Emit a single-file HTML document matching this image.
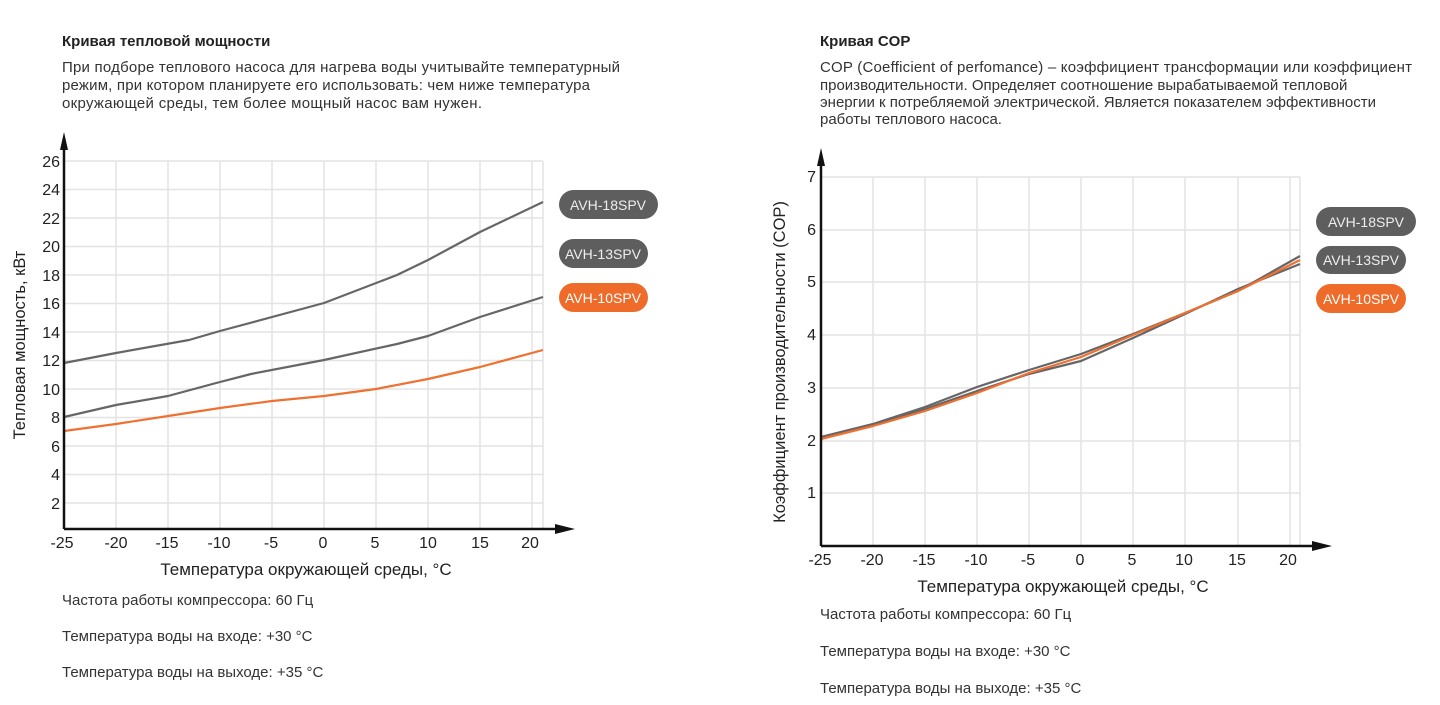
<!DOCTYPE html>
<html><head><meta charset="utf-8"><style>
html,body{margin:0;padding:0;background:#fff;width:1440px;height:705px;overflow:hidden}
svg{display:block;font-family:"Liberation Sans",sans-serif}
</style></head><body>
<svg width="1440" height="705" viewBox="0 0 1440 705">
<g fill="#222">
<text x="62" y="46" font-size="15" font-weight="bold">Кривая тепловой мощности</text>
<g font-size="15" fill="#333" textLength="0">
<text x="62" y="72" textLength="558">При подборе теплового насоса для нагрева воды учитывайте температурный</text>
<text x="62" y="90" textLength="528">режим, при котором планируете его использовать: чем ниже температура</text>
<text x="62" y="108" textLength="420">окружающей среды, тем более мощный насос вам нужен.</text>
</g>
<text x="820" y="46" font-size="15" font-weight="bold">Кривая COP</text>
<g font-size="15" fill="#333">
<text x="820" y="72" textLength="592">COP (Coefficient of perfomance) – коэффициент трансформации или коэффициент</text>
<text x="820" y="90">производительности. Определяет соотношение вырабатываемой тепловой</text>
<text x="820" y="107">энергии к потребляемой электрической. Является показателем эффективности</text>
<text x="820" y="124">работы теплового насоса.</text>
</g>
<g font-size="15" fill="#333">
<text x="62" y="605">Частота работы компрессора: 60 Гц</text>
<text x="62" y="641">Температура воды на входе: +30 °C</text>
<text x="62" y="677">Температура воды на выходе: +35 °C</text>
<text x="820" y="619">Частота работы компрессора: 60 Гц</text>
<text x="820" y="656">Температура воды на входе: +30 °C</text>
<text x="820" y="693">Температура воды на выходе: +35 °C</text>
</g>
</g>

<g stroke="#e3e3e3" stroke-width="1.5" fill="none">
<path d="M64 161H543 M64 189.5H543 M64 218H543 M64 246.5H543 M64 275H543 M64 303.5H543 M64 332H543 M64 360.5H543 M64 389H543 M64 417.5H543 M64 446H543 M64 474.5H543 M64 503H543"/>
<path d="M116 161V529 M168 161V529 M220 161V529 M272 161V529 M324 161V529 M376 161V529 M428 161V529 M480 161V529 M532 161V529 M543 161V529"/>
</g>
<g fill="none" stroke-width="2.2" stroke-linejoin="round">
<polyline stroke="#666" points="64,363 116,353 189,340 220,331 324,303 397,275 428,260 480,232 543,202"/>
<polyline stroke="#666" points="64,417 116,405 168,396 220,382 251,374 324,360 397,344 428,336 480,317 543,297"/>
<polyline stroke="#f07030" points="64,431 116,424 168,416 220,408 272,401 324,396 376,389 428,379 480,367 543,350"/>
</g>
<g stroke="#111" stroke-width="2.5">
<line x1="64" y1="529" x2="560" y2="529"/>
<line x1="64" y1="529" x2="64" y2="145"/>
</g>
<polygon points="64,132 60,150 68,150" fill="#111"/>
<polygon points="575,529 555,524 555,534" fill="#111"/>
<g font-size="16" fill="#222" text-anchor="end">
<text x="60" y="167">26</text><text x="60" y="195">24</text><text x="60" y="224">22</text><text x="60" y="252">20</text><text x="60" y="281">18</text><text x="60" y="309">16</text><text x="60" y="338">14</text><text x="60" y="366">12</text><text x="60" y="395">10</text><text x="60" y="423">8</text><text x="60" y="452">6</text><text x="60" y="480">4</text><text x="60" y="509">2</text>
</g>
<g font-size="16" fill="#222" text-anchor="middle">
<text x="62" y="548">-25</text><text x="116" y="548">-20</text><text x="167" y="548">-15</text><text x="219" y="548">-10</text><text x="271" y="548">-5</text><text x="323" y="548">0</text><text x="375" y="548">5</text><text x="428" y="548">10</text><text x="480" y="548">15</text><text x="530" y="548">20</text>
<text x="306" y="575" font-size="17">Температура окружающей среды, °C</text>
<text transform="translate(25,345) rotate(-90)" font-size="16.5">Тепловая мощность, кВт</text>
</g>
<rect x="559" y="190" width="99" height="29" rx="14.5" fill="#5e5e5e"/>
<rect x="559" y="239" width="89" height="29" rx="14.5" fill="#5e5e5e"/>
<rect x="559" y="283" width="89" height="29" rx="14.5" fill="#ef6b2a"/>
<g font-size="14" fill="#eee" text-anchor="middle">
<text x="608" y="210">AVH-18SPV</text><text x="603" y="259">AVH-13SPV</text><text x="603" y="303" fill="#fff">AVH-10SPV</text>
</g>

<g stroke="#e3e3e3" stroke-width="1.5" fill="none">
<path d="M821 177H1300 M821 230H1300 M821 282H1300 M821 335H1300 M821 388H1300 M821 441H1300 M821 493H1300"/>
<path d="M873 177V546 M925 177V546 M977 177V546 M1029 177V546 M1081 177V546 M1133 177V546 M1185 177V546 M1238 177V546 M1290 177V546 M1300 177V546"/>
</g>
<g fill="none" stroke-width="2.2" stroke-linejoin="round">
<polyline stroke="#666" points="821,437 873,424 925,407 977,387 1029,370 1081,354 1133,334 1185,313 1238,291 1300,256"/>
<polyline stroke="#666" points="821,438 873,425 925,409 977,391 1029,374 1081,361 1133,338 1185,314 1238,289 1300,264"/>
<polyline stroke="#f07030" points="821,439 873,426 925,411 977,393 1029,373 1081,357 1133,335 1185,313 1238,291 1300,260"/>
</g>
<g stroke="#111" stroke-width="2.5">
<line x1="821" y1="546" x2="1315" y2="546"/>
<line x1="821" y1="546" x2="821" y2="160"/>
</g>
<polygon points="821,148 817,166 825,166" fill="#111"/>
<polygon points="1332,546 1312,541 1312,551" fill="#111"/>
<g font-size="16" fill="#222" text-anchor="end">
<text x="816" y="182">7</text><text x="816" y="235">6</text><text x="816" y="287">5</text><text x="816" y="340">4</text><text x="816" y="393">3</text><text x="816" y="446">2</text><text x="816" y="498">1</text>
</g>
<g font-size="16" fill="#222" text-anchor="middle">
<text x="820" y="565">-25</text><text x="872" y="565">-20</text><text x="924" y="565">-15</text><text x="976" y="565">-10</text><text x="1028" y="565">-5</text><text x="1080" y="565">0</text><text x="1132" y="565">5</text><text x="1184" y="565">10</text><text x="1237" y="565">15</text><text x="1288" y="565">20</text>
<text x="1063" y="592" font-size="17">Температура окружающей среды, °C</text>
<text transform="translate(785,362) rotate(-90)" font-size="16.5">Коэффициент производительности (COP)</text>
</g>
<rect x="1316" y="207" width="100" height="29" rx="14.5" fill="#5e5e5e"/>
<rect x="1316" y="246" width="90" height="28" rx="14" fill="#5e5e5e"/>
<rect x="1316" y="284" width="90" height="29" rx="14.5" fill="#ef6b2a"/>
<g font-size="14" fill="#eee" text-anchor="middle">
<text x="1366" y="227">AVH-18SPV</text><text x="1361" y="265">AVH-13SPV</text><text x="1361" y="304" fill="#fff">AVH-10SPV</text>
</g>
</svg>
</body></html>
